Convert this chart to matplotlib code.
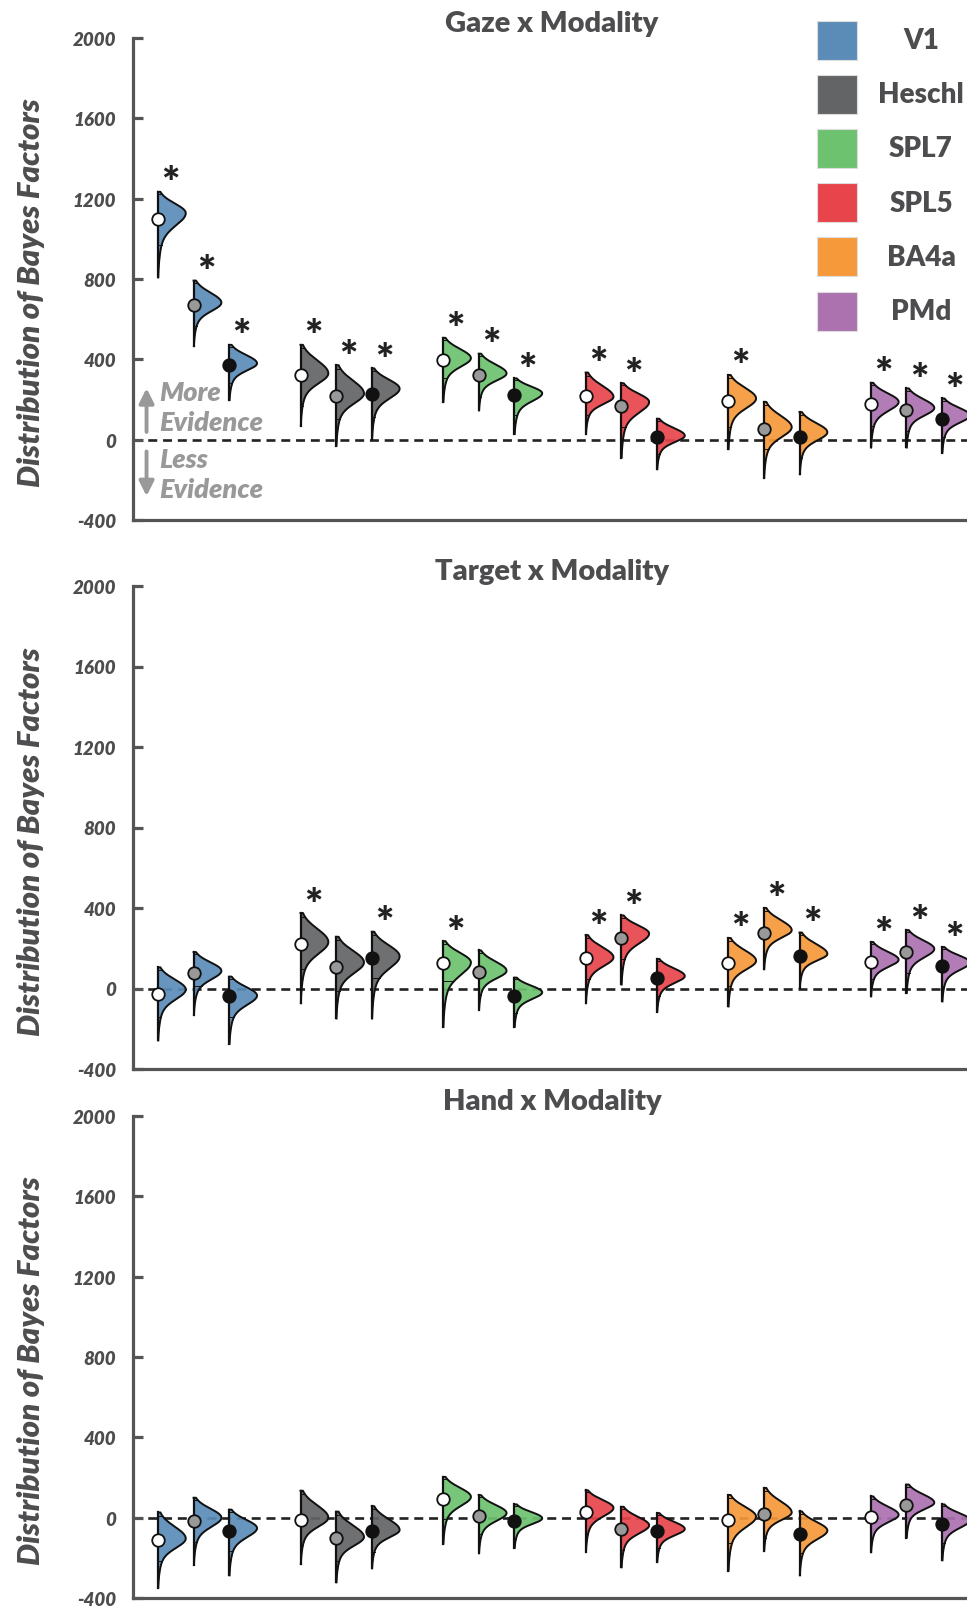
import numpy as np
import matplotlib.pyplot as plt
from matplotlib.patches import Rectangle

plt.rcParams['font.family'] = ['Lato', 'DejaVu Sans']
plt.rcParams['axes.unicode_minus'] = False

# regions, colours and the three conditions (dot fill)
regions = ['V1', 'Heschl', 'SPL7', 'SPL5', 'BA4a', 'PMd']
colors = ['#5b8cb8', '#636466', '#6cc26f', '#e8444c', '#f6993a', '#ac72b0']
cond_fill = ['white', '#999999', '#111111']
titles = ['Gaze x Modality', 'Target x Modality', 'Hand x Modality']

# values, 18 per panel (region x condition)
gaze_dot = [1099, 669, 372, 321, 216, 229, 397, 322, 221, 216, 166, 12, 193, 54, 15, 179, 149, 104]
gaze_hi = [1234, 792, 472, 472, 371, 355, 507, 428, 305, 334, 281, 104, 322, 188, 137, 283, 255, 205]
gaze_lo = [808, 466, 197, 70, -30, 3, 188, 146, 28, 28, -89, -147, -47, -190, -172, -39, -39, -64]
gaze_mode = [1128, 682, 380, 330, 230, 254, 406, 330, 231, 213, 188, 20, 205, 62, 37, 188, 158, 121]
gaze_q = [968, 565, 280, 170, 104, 112, 305, 213, 121, 121, 62, -72, 62, -47, -89, 70, 45, 12]
gaze_star = [1, 1, 1, 1, 1, 1, 1, 1, 1, 1, 1, 0, 1, 0, 0, 1, 1, 1]

target_dot = [-25, 76, -39, 223, 105, 150, 125, 83, -35, 150, 251, 54, 125, 278, 160, 133, 181, 110]
target_hi = [105, 181, 59, 375, 257, 282, 235, 189, 54, 265, 363, 147, 251, 400, 278, 231, 290, 206]
target_lo = [-258, -132, -275, -73, -149, -149, -191, -106, -191, -73, 20, -115, -89, 96, 3, -39, -22, -64]
target_mode = [-5, 88, -35, 231, 130, 160, 130, 88, -19, 155, 273, 62, 138, 290, 172, 143, 197, 130]
target_q = [-140, 12, -140, 96, -14, 54, 37, -30, -123, 46, 147, -39, 12, 155, 62, 46, 79, 12]
target_star = [0, 0, 0, 1, 0, 1, 1, 0, 0, 1, 1, 0, 1, 1, 1, 1, 1, 1]

hand_dot = [-110, -17, -64, -12, -99, -64, 92, 10, -16, 26, -56, -64, -12, 19, -82, 2, 61, -30]
hand_hi = [26, 99, 40, 134, 30, 57, 203, 112, 66, 136, 54, 23, 113, 148, 31, 106, 165, 66]
hand_lo = [-348, -235, -287, -231, -322, -252, -130, -177, -151, -169, -247, -221, -264, -165, -287, -172, -99, -212]
hand_mode = [-104, 0, -52, 0, -96, -61, 104, 23, -3, 49, -38, -56, 5, 26, -64, 14, 75, -12]
hand_q = [-217, -122, -165, -157, -217, -169, -9, -82, -108, -82, -160, -151, -125, -99, -177, -117, -38, -125]
hand_star = [0] * 18

panels = [
    (gaze_dot, gaze_hi, gaze_lo, gaze_mode, gaze_q, gaze_star),
    (target_dot, target_hi, target_lo, target_mode, target_q, target_star),
    (hand_dot, hand_hi, hand_lo, hand_mode, hand_q, hand_star),
]

W, H = 967, 1608
fig = plt.figure(figsize=(W / 100, H / 100), dpi=100)

txt_col = '#4d4d4f'
spine_col = '#555555'
vw = 0.78  # half violin width in x units

xpos = [4 * i + j for i in range(len(regions)) for j in range(3)]


def profile(y, lo, hi, mode):
    # skewed half-violin outline: short upper side, long lower tail
    su = (hi - mode) / 2.2
    sl = (mode - lo)
    up = np.exp(-0.5 * ((y - mode) / su) ** 2)
    dn = 0.75 * np.exp(-0.5 * ((y - mode) / (0.18 * sl)) ** 2) + 0.25 * np.exp(-0.5 * ((y - mode) / (0.4 * sl)) ** 2)
    return np.where(y >= mode, up, dn)


# axes boxes in pixels (top, bottom)
boxes = [(39, 521), (587, 1070), (1117, 1599)]
left_px, right_px = 133, 971

for k, (dots, his, los, modes, qs, stars) in enumerate(panels):
    top, bot = boxes[k]
    ax = fig.add_axes([left_px / W, 1 - bot / H, (right_px - left_px) / W, (bot - top) / H])
    ax.set_xlim(-0.70, 22.81)
    ax.set_ylim(-400, 2000)
    ax.set_xticks([])
    ax.set_yticks([-400, 0, 400, 800, 1200, 1600, 2000])
    for s in ['top', 'right']:
        ax.spines[s].set_visible(False)
    for s in ['left', 'bottom']:
        ax.spines[s].set_color(spine_col)
        ax.spines[s].set_linewidth(2.3)
    ax.tick_params(axis='y', direction='in', length=7, width=2.3, color=spine_col,
                   labelsize=13.5, labelcolor=txt_col, pad=12)
    for lab in ax.get_yticklabels():
        lab.set_fontstyle('italic')
        lab.set_fontweight('heavy')
    ax.set_title(titles[k], fontsize=21, fontweight='heavy', color=txt_col, pad=5)
    ax.axhline(0, color='#222222', lw=1.9, ls=(0, (3.4, 2.2)), zorder=1)

    for n, x in enumerate(xpos):
        c = colors[n // 3]
        lo, hi, mode = los[n], his[n], modes[n]
        y = np.linspace(lo, hi, 300)
        d = profile(y, lo, hi, mode)
        xs = x + vw * d
        ax.fill_betweenx(y, x, xs, color=c, alpha=0.92, lw=0, zorder=2)
        ax.plot(np.r_[xs, x], np.r_[y, hi], color='#111111', lw=1.4, zorder=3)
        ax.plot([x, x], [lo, hi], color='#111111', lw=1.6, zorder=3)
        for qv in [qs[n], hi - 0.12 * (hi - mode)]:
            dq = profile(np.array([qv]), lo, hi, mode)[0]
            ax.plot([x, x + vw * dq], [qv, qv], color='#111111', lw=0.7, zorder=3)
        ax.plot(x, dots[n], 'o', ms=9, mfc=cond_fill[n % 3], mec='#111111', mew=1.3, zorder=4)
        if stars[n]:
            ax.annotate('*', xy=(x, hi), xytext=(9, -9), textcoords='offset points',
                        ha='center', va='bottom', fontsize=31, fontweight='heavy', color='#222222')

    fig.text(31 / W, 1 - ((top + bot) / 2 + 13) / H, 'Distribution of Bayes Factors',
             rotation=90, ha='center', va='center', fontsize=22.5, fontstyle='italic',
             fontweight='heavy', color=txt_col)

    if k == 0:
        ax.annotate('', xy=(-0.32, 270), xytext=(-0.32, 25),
                    arrowprops=dict(arrowstyle='-|>', color='#999999', lw=2.8, mutation_scale=22))
        ax.annotate('', xy=(-0.32, -295), xytext=(-0.32, -45),
                    arrowprops=dict(arrowstyle='-|>', color='#999999', lw=2.8, mutation_scale=22))
        for label, yv in [('More', 235), ('Evidence', 87), ('Less', -97), ('Evidence', -245)]:
            ax.text(0.03, yv, label, ha='left', va='center', fontsize=19.5, fontstyle='italic',
                    fontweight='heavy', color='#999999')

# legend drawn by hand: squares with centred labels
for i, (name, c) in enumerate(zip(regions, colors)):
    cy = 41 + 54.2 * i
    fig.add_artist(Rectangle((817 / W, 1 - (cy + 19.5) / H), 40 / W, 39 / H, transform=fig.transFigure,
                             facecolor=c, edgecolor='#dddddd', lw=0.8))
    fig.text(921 / W, 1 - cy / H, name, ha='center', va='center', fontsize=20,
             fontweight='heavy', color=txt_col)

fig.savefig('out.png', dpi=100)
